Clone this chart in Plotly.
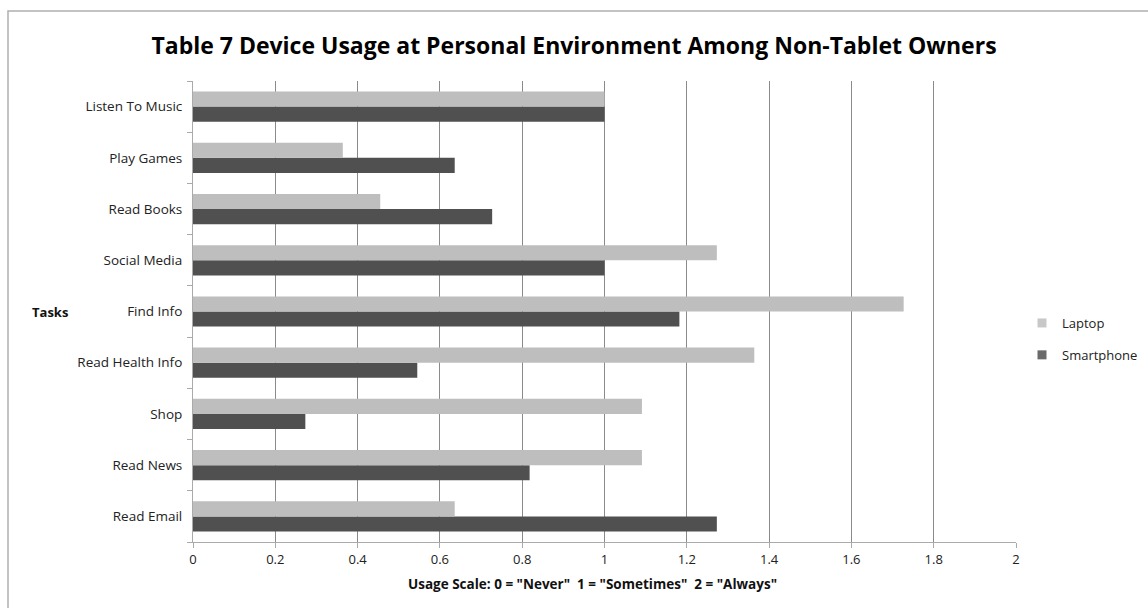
import plotly.graph_objects as go

tasks = ["Read Email", "Read News", "Shop", "Read Health Info", "Find Info",
         "Social Media", "Read Books", "Play Games", "Listen To Music"]
laptop = [0.636, 1.091, 1.091, 1.364, 1.727, 1.273, 0.455, 0.364, 1.0]
smartphone = [1.273, 0.818, 0.273, 0.545, 1.182, 1.0, 0.727, 0.636, 1.0]
x_ticks = [0, 0.2, 0.4, 0.6, 0.8, 1, 1.2, 1.4, 1.6, 1.8, 2]

FONT = "Open Sans"
C_LAP = "#bebebe"
C_SMA = "#505050"

fig = go.Figure()
fig.add_trace(go.Bar(y=tasks, x=smartphone, name="Smartphone", orientation="h",
                     marker=dict(color=C_SMA, line=dict(width=0)), showlegend=False))
fig.add_trace(go.Bar(y=tasks, x=laptop, name="Laptop", orientation="h",
                     marker=dict(color=C_LAP, line=dict(width=0)), showlegend=False))
# legend entries with small square swatches
fig.add_trace(go.Scatter(x=[None], y=[None], mode="markers", name="Laptop",
                         marker=dict(symbol="square", size=9, color="#c8c8c8"),
                         legendgroup="a", showlegend=True))
fig.add_trace(go.Scatter(x=[None], y=[None], mode="markers", name="Smartphone",
                         marker=dict(symbol="square", size=9, color="#6a6a6a"),
                         legendgroup="b", showlegend=True))

L, R, T, B = 193, 132, 81, 66
W, H = 1148, 608
pw, ph = W - L - R, H - T - B

def px(x):
    return (x - L) / pw

def py(y):
    return 1 - (y - T) / ph

fig.update_layout(
    width=W, height=H,
    margin=dict(l=L, r=R, t=T, b=B, autoexpand=False),
    paper_bgcolor="white", plot_bgcolor="white",
    barmode="group", bargap=0.41, bargroupgap=0,
    font=dict(family=FONT, size=13, color="#222"),
    title=dict(text="<b>Table 7 Device Usage at Personal Environment Among Non-Tablet Owners</b>",
               x=574 / W, xref="container", xanchor="center", y=1 - 46 / H, yanchor="middle",
               font=dict(family=FONT, size=23, color="#000")),
    xaxis=dict(range=[0, 2], tickvals=x_ticks, ticktext=[str(v) for v in x_ticks],
               showgrid=True, gridcolor="#8a8a8a", gridwidth=1,
               showline=True, linecolor="#aaaaaa", linewidth=1,
               ticks="outside", ticklen=5, tickcolor="#aaaaaa",
               zeroline=False, tickfont=dict(size=13, color="#222")),
    yaxis=dict(categoryorder="array", categoryarray=tasks,
               showline=True, linecolor="#aaaaaa", linewidth=1,
               ticks="outside", ticklen=5, tickcolor="#aaaaaa",
               tickson="boundaries", showgrid=False,
               tickfont=dict(size=13.5, color="#222"), ticksuffix="  "),
    legend=dict(x=px(1022), y=py(339), xanchor="left", yanchor="middle",
                traceorder="grouped", font=dict(size=13, color="#222"),
                itemwidth=30, tracegroupgap=12, bgcolor="rgba(0,0,0,0)"),
    showlegend=True,
)

fig.add_annotation(text="<b>Usage Scale: 0 = \"Never\"  1 = \"Sometimes\"  2 = \"Always\"</b>",
                   xref="paper", yref="paper", x=px(592), y=py(584),
                   xanchor="center", yanchor="middle",
                   showarrow=False, font=dict(size=13.5, color="#111"))

fig.add_annotation(text="<b>Tasks</b>", xref="paper", yref="paper",
                   x=px(50), y=py(312), xanchor="center", yanchor="middle",
                   showarrow=False, font=dict(size=13, color="#111"))

fig.add_shape(type="rect", xref="paper", yref="paper",
              x0=px(8), y0=py(620), x1=px(1160), y1=py(11),
              line=dict(color="#b0b0b0", width=1.5), fillcolor="rgba(0,0,0,0)",
              layer="below")

fig.write_html("out.html")
